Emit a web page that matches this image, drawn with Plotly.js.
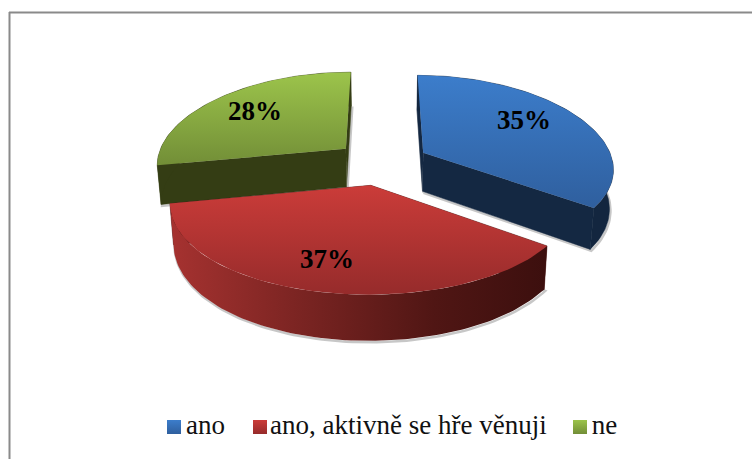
<!DOCTYPE html>
<html><head><meta charset="utf-8">
<script src="https://cdn.plot.ly/plotly-3.0.1.min.js"></script>
<style>html,body{margin:0;padding:0;background:#fff}#c{width:752px;height:459px}</style>
</head><body><div id="c"></div>
<script>
const categories = ['ano', 'ano, aktivně se hře věnuji', 'ne'];
const shares = [35, 37, 28];
const swatchX = [174, 260, 580];

const topColors = [['#3C7DCB', '#2F5F9E'], ['#CB3C39', '#962B2B'], ['#9CC44B', '#728E37']];
const wallColors = ['#142842', '#4A1412', '#343D14'];
const rimBlue = '#13263F', rimGreen = '#343D14';
const rimRedStops = [[0, '#A63230'], [0.35, '#7A2422'], [0.7, '#501614'], [1, '#3C0F0E']];
const labelRadius = [0.71, 0.72, 0.717];
const labelSpan = [0.444, 0.52, 0.514];

// 3D-pie camera
const VX = 381.6, VY = 162.8, R = 190.1, A = 89.5, K = 0.125, KX = 0.16, H = 39, EXPLODE = 0.25, ZS = 0.017;
const FONT = 'Liberation Serif';

function project(X, Y, Z) {
  const w = 1 / (1 - K * Y), wx = 1 / (1 - KX * Y);
  return [VX + R * X * wx * (1 - ZS * Z), VY + A * Y * w + Z * H * w];
}
function dir(deg) { const a = deg * Math.PI / 180; return [Math.sin(a), -Math.cos(a)]; }

const total = shares.reduce((s, v) => s + v, 0);
const slices = [];
let start = 0;
shares.forEach((v, i) => {
  const end = start + v / total * 360;
  const m = dir((start + end) / 2);
  slices.push({ i, a0: start, a1: end, ox: m[0] * EXPLODE, oy: m[1] * EXPLODE });
  start = end;
});

function poly(pts, extra) {
  return Object.assign({
    x: pts.map(p => p[0]), y: pts.map(p => p[1]),
    type: 'scatter', mode: 'lines', fill: 'toself',
    line: { width: 0 }, hoverinfo: 'skip', showlegend: false
  }, extra);
}
function arc(s, z, a0, a1) {
  const out = [];
  const n = Math.max(2, Math.ceil(Math.abs(a1 - a0) / 1.5));
  for (let k = 0; k <= n; k++) {
    const d = dir(a0 + (a1 - a0) * k / n);
    out.push(project(s.ox + d[0], s.oy + d[1], z));
  }
  return out;
}
function wall(s, a) {
  const d = dir(a);
  return [project(s.ox, s.oy, 0), project(s.ox + d[0], s.oy + d[1], 0),
          project(s.ox + d[0], s.oy + d[1], 1), project(s.ox, s.oy, 1)];
}
function extent(pts, c) { const v = pts.map(p => p[c]); return [Math.min(...v), Math.max(...v)]; }

const traces = [];
[slices[2], slices[0], slices[1]].forEach(s => {
  const low = arc(s, 1, s.a0, s.a1);
  const apexLow = project(s.ox, s.oy, 1);
  const outline = [apexLow].concat(low, [apexLow]);
  traces.push({
    x: outline.map(p => p[0] + 1), y: outline.map(p => p[1] + 1.5),
    type: 'scatter', mode: 'lines', line: { width: 2.5, color: 'rgba(0,0,0,0.22)' },
    hoverinfo: 'skip', showlegend: false
  });
  const wc = wallColors[s.i];
  traces.push(poly(wall(s, s.a0), { fillcolor: wc, line: { width: 0.5, color: wc } }));
  traces.push(poly(wall(s, s.a1), { fillcolor: wc, line: { width: 0.5, color: wc } }));
  const rim = arc(s, 0, s.a0, s.a1).concat(low.slice().reverse());
  const ex = extent(rim, 0);
  if (s.i === 1) {
    traces.push(poly(rim, { fillgradient: { type: 'horizontal', start: ex[0], stop: ex[1], colorscale: rimRedStops } }));
  } else {
    const rc = s.i === 0 ? rimBlue : rimGreen;
    traces.push(poly(rim, { fillcolor: rc, line: { width: 0.5, color: rc } }));
  }
  const top = [project(s.ox, s.oy, 0)].concat(arc(s, 0, s.a0, s.a1));
  const ey = extent(top, 1);
  traces.push(poly(top, { fillgradient: { type: 'vertical', start: ey[0], stop: ey[1],
    colorscale: [[0, topColors[s.i][0]], [1, topColors[s.i][1]]] } }));
});

const lab = slices.map(s => {
  const d = dir(s.a0 + (s.a1 - s.a0) * labelSpan[s.i]);
  const r = labelRadius[s.i];
  return project(s.ox + d[0] * r, s.oy + d[1] * r, 0.07);
});
traces.push({
  x: lab.map(p => p[0]), y: lab.map(p => p[1]),
  text: shares.map(v => '<b>' + v + '%</b>'),
  type: 'scatter', mode: 'text', textposition: 'middle center',
  textfont: { family: FONT, size: 27, color: '#000' },
  hoverinfo: 'skip', showlegend: false
});
// legend swatches sit closer to their text than the legend's own icons can
categories.forEach((c, i) => traces.push({
  x: [swatchX[i]], y: [427], type: 'scatter', mode: 'markers', showlegend: false, hoverinfo: 'skip',
  marker: { symbol: 'square', size: 14, color: topColors[i][0], gradient: { type: 'vertical', color: topColors[i][1] } }
}));
categories.forEach((c, i) => traces.push({
  x: [null], y: [null], name: c, type: 'scatter', mode: 'markers',
  marker: { symbol: 'square', size: 14, color: 'rgba(0,0,0,0)' }
}));

const layout = {
  width: 752, height: 459,
  font: { family: FONT, size: 27, color: '#111' },
  margin: { l: 0, r: 0, t: 0, b: 0, pad: 0 },
  paper_bgcolor: '#fff', plot_bgcolor: '#fff',
  xaxis: { range: [0, 752], visible: false, fixedrange: true },
  yaxis: { range: [459, 0], visible: false, fixedrange: true },
  showlegend: true,
  legend: {
    orientation: 'h', x: 0.1942, xanchor: 'left', y: 0.022, yanchor: 'bottom',
    font: { family: FONT, size: 27, color: '#111' },
    bgcolor: 'rgba(0,0,0,0)', itemwidth: 30
  },
  shapes: [
    { type: 'line', xref: 'paper', yref: 'paper', x0: 9.5 / 752, x1: 9.5 / 752, y0: 0, y1: 1 - 12 / 459,
      line: { color: '#8A8A8A', width: 2 } },
    { type: 'line', xref: 'paper', yref: 'paper', x0: 9 / 752, x1: 1, y0: 1 - 12.5 / 459, y1: 1 - 12.5 / 459,
      line: { color: '#8A8A8A', width: 2 } }
  ]
};
Plotly.newPlot('c', traces, layout, { displayModeBar: false, staticPlot: true }).then(gd => Plotly.relayout(gd, { 'legend.y': 0.022 }));
</script></body></html>
